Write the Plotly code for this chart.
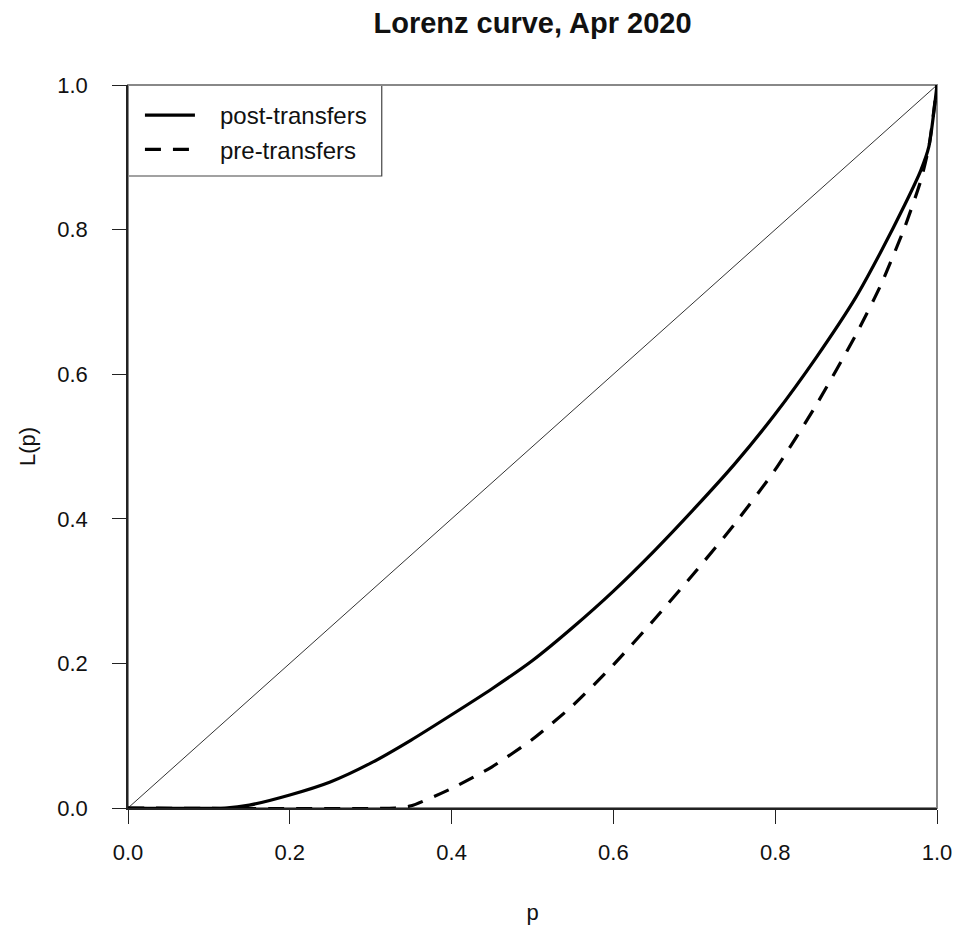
import plotly.graph_objects as go

# Data
p_post = [0.0, 0.12, 0.15, 0.20, 0.25, 0.30, 0.35, 0.40, 0.45, 0.50, 0.55, 0.60,
          0.65, 0.70, 0.75, 0.80, 0.85, 0.90, 0.93, 0.96, 0.98, 0.99, 1.0]
L_post = [0.0, 0.0, 0.004, 0.018, 0.036, 0.062, 0.094, 0.129, 0.165, 0.204, 0.250, 0.300,
          0.355, 0.414, 0.476, 0.545, 0.622, 0.707, 0.768, 0.834, 0.882, 0.915, 1.0]

p_pre = [0.0, 0.33, 0.35, 0.40, 0.45, 0.50, 0.55, 0.60, 0.65, 0.70, 0.75, 0.80,
         0.85, 0.90, 0.93, 0.96, 0.98, 0.99, 1.0]
L_pre = [0.0, 0.0, 0.003, 0.027, 0.057, 0.095, 0.142, 0.198, 0.26, 0.325, 0.393, 0.468,
         0.556, 0.655, 0.722, 0.803, 0.868, 0.915, 1.0]

diag_p = [0.0, 1.0]
diag_L = [0.0, 1.0]

tick_vals = [0.0, 0.2, 0.4, 0.6, 0.8, 1.0]
tick_text = ["0.0", "0.2", "0.4", "0.6", "0.8", "1.0"]

series_names = ["post-transfers", "pre-transfers"]

FONT = "Liberation Sans, Arial, sans-serif"
NB = "\u00a0\u00a0\u00a0"

fig = go.Figure()
fig.add_trace(go.Scatter(x=diag_p, y=diag_L, mode="lines",
                         line=dict(color="#333333", width=1), showlegend=False,
                         hoverinfo="skip"))
fig.add_trace(go.Scatter(x=p_post, y=L_post, mode="lines", name=NB + series_names[0],
                         line=dict(color="black", width=3.2, shape="spline", smoothing=0.6),
                         legendgroup="a"))
fig.add_trace(go.Scatter(x=p_pre, y=L_pre, mode="lines", name=NB + series_names[1],
                         line=dict(color="black", width=3.2, dash="16px,12px",
                                   shape="spline", smoothing=0.6),
                         legendgroup="b"))

axis_common = dict(
    range=[0, 1], tickvals=tick_vals, ticktext=tick_text,
    showgrid=False, zeroline=False, showline=True, linecolor="#222222", linewidth=1.5,
    ticks="outside", ticklen=14, tickwidth=1.2, tickcolor="#222222",
    tickfont=dict(family=FONT, size=22, color="#111111"),
    title_font=dict(family=FONT, size=22, color="#111111"),
)

fig.update_layout(
    width=964, height=935,
    margin=dict(l=128, r=23, t=85, b=127),
    paper_bgcolor="white", plot_bgcolor="white",
    title=dict(text="<b>Lorenz curve, Apr 2020</b>", x=0.5, xanchor="center",
               xref="paper", y=0.976, yanchor="middle",
               font=dict(family=FONT, size=29, color="#111111")),
    xaxis=dict(axis_common, title=dict(text="p", standoff=40), ticklabelstandoff=10),
    yaxis=dict(axis_common, title=dict(text="L(p)", standoff=16), ticklabelstandoff=20),
    legend=dict(x=(148 - 128 - 8) / 813, y=1 - 8 / 723, xanchor="left", yanchor="top",
                borderwidth=0, bgcolor="rgba(0,0,0,0)",
                font=dict(family=FONT, size=24, color="#111111"),
                tracegroupgap=0, itemwidth=50),
    shapes=[dict(type="rect", xref="x", yref="paper", x0=0, x1=(383 - 128) / 813,
                 y0=1 - (176 - 85) / 723, y1=1,
                 line=dict(color="#444444", width=1.2), fillcolor="white", layer="below"),
            dict(type="rect", xref="paper", yref="paper", x0=0, y0=0, x1=1, y1=1,
                 line=dict(color="#888888", width=2), layer="below")],
    showlegend=True,
)

fig.write_html("out.html")
